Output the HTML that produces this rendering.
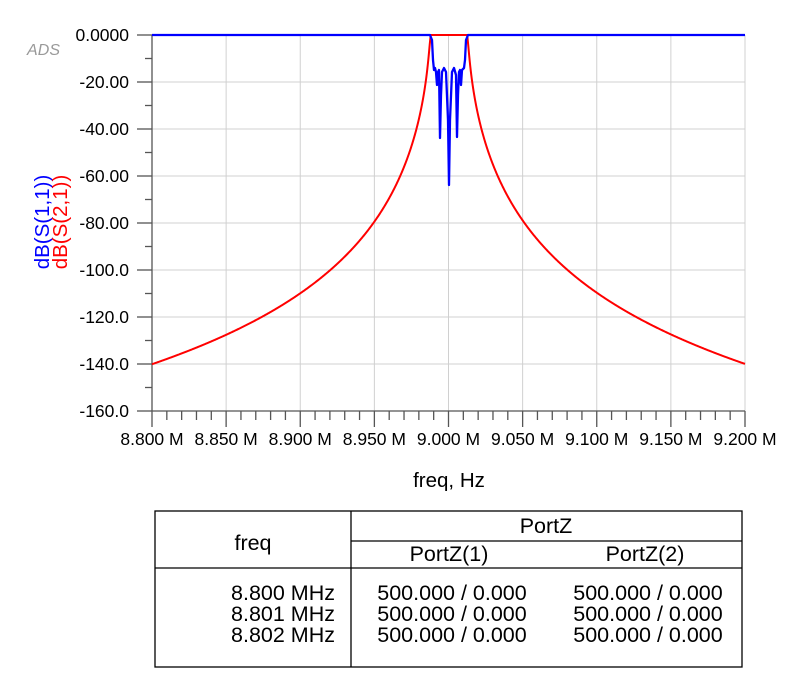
<!DOCTYPE html>
<html><head><meta charset="utf-8"><style>
html,body{margin:0;padding:0;background:#fff;}
svg{display:block;font-family:"Liberation Sans",Arial,sans-serif;}
</style></head><body>
<svg id="s" width="800" height="682" viewBox="0 0 800 682" xmlns="http://www.w3.org/2000/svg">
<text x="27" y="55" font-size="16" fill="#999" font-style="italic" textLength="33">ADS</text>
<g id="grid" stroke="#d0d0d0" stroke-width="1"></g>
<g id="ticks" stroke="#555" stroke-width="1.3"></g>
<g id="labels" fill="#000"></g>
<path id="red" fill="none" stroke="#f00" stroke-width="2"/>
<path id="blue" fill="none" stroke="#00f" stroke-width="2.3" stroke-linejoin="round"/>
<text x="449" y="487" font-size="20.5" text-anchor="middle">freq, Hz</text>
<text transform="translate(49,222) rotate(-90)" font-size="20.5" fill="#00f" text-anchor="middle">dB(S(1,1))</text>
<text transform="translate(67,222) rotate(-90)" font-size="20.5" fill="#f00" text-anchor="middle">dB(S(2,1))</text>
<g stroke="#000" stroke-width="1.3" fill="none">
<rect x="155" y="511" width="587" height="156"/>
<line x1="351" y1="511" x2="351" y2="667"/>
<line x1="351" y1="541" x2="742" y2="541"/>
<line x1="155" y1="568" x2="742" y2="568"/>
</g>
<g font-size="21.5" fill="#000">
<text x="253" y="550" text-anchor="middle">freq</text>
<text x="546" y="533" text-anchor="middle">PortZ</text>
<text x="449" y="561" text-anchor="middle">PortZ(1)</text>
<text x="645" y="561" text-anchor="middle">PortZ(2)</text>
<text x="335" y="600" text-anchor="end">8.800 MHz</text>
<text x="335" y="621" text-anchor="end">8.801 MHz</text>
<text x="335" y="642" text-anchor="end">8.802 MHz</text>
<text x="452" y="600" text-anchor="middle">500.000 / 0.000</text>
<text x="452" y="621" text-anchor="middle">500.000 / 0.000</text>
<text x="452" y="642" text-anchor="middle">500.000 / 0.000</text>
<text x="648" y="600" text-anchor="middle">500.000 / 0.000</text>
<text x="648" y="621" text-anchor="middle">500.000 / 0.000</text>
<text x="648" y="642" text-anchor="middle">500.000 / 0.000</text>
</g>
</svg>
<script>
var NS="http://www.w3.org/2000/svg";
function el(p,t,a,txt){var e=document.createElementNS(NS,t);for(var k in a)e.setAttribute(k,a[k]);if(txt!==undefined)e.textContent=txt;document.getElementById(p).appendChild(e);}
var X0=152,X1=745,Y0=35,Y1=411;
function X(f){return X0+(f-8.8)*(X1-X0)/0.4;}
function Y(d){return Y0+(-d)*(Y1-Y0)/160;}
var yl=["0.0000","-20.00","-40.00","-60.00","-80.00","-100.0","-120.0","-140.0","-160.0"];
for(var i=0;i<=8;i++){var y=Y(-20*i);
 if(i<8)el("grid","line",{x1:X0,y1:y,x2:X1,y2:y});
 el("ticks","line",{x1:137,y1:y,x2:X0,y2:y});
 if(i<8)el("ticks","line",{x1:145,y1:y+23.5,x2:X0,y2:y+23.5});
 el("labels","text",{x:129,y:y+6,"text-anchor":"end","font-size":"17.5"},yl[i]);}
var xl=["8.800 M","8.850 M","8.900 M","8.950 M","9.000 M","9.050 M","9.100 M","9.150 M","9.200 M"];
for(var i=0;i<=8;i++){var x=X(8.8+0.05*i);
 if(i>0)el("grid","line",{x1:x,y1:Y0,x2:x,y2:Y1});
 el("ticks","line",{x1:x,y1:Y1,x2:x,y2:427});
 if(i<8)for(var j=1;j<5;j++){var xm=x+j*(X1-X0)/40;el("ticks","line",{x1:xm,y1:Y1,x2:xm,y2:420});}
 el("labels","text",{x:x,y:445,"text-anchor":"middle","font-size":"17.5"},xl[i]);}
el("ticks","line",{x1:X0,y1:Y0,x2:X0,y2:Y1});
el("ticks","line",{x1:X0,y1:Y1,x2:X1,y2:Y1});
var d="",eps=0.6,fc=9.0003,de=0.0125;
for(var k=0;k<=1200;k++){var f=8.8+0.4*k/1200;var x=Math.abs(f-fc)/de;var db;
 if(x<=1)db=0;else{var T=Math.cosh(5*Math.acosh(x));db=-10*Math.log10(1+eps*eps*T*T);}
 d+=(k?"L":"M")+X(f).toFixed(2)+","+Y(Math.max(db,-160)).toFixed(2);}
document.getElementById("red").setAttribute("d",d);
var b=[[152,35],[430,35],[432,40],[433,60],[434,70],[435,68],[436,72],[437,85],[438,72],[439,70],[440,138],[441,95],[442,72],[444,68],[446,72],[448,120],[449,185],[450,120],[452,72],[454,68],[456,75],[457,137],[458,95],[459,72],[460,70],[461,85],[462,70],[464,68],[465,60],[466,40],[468,35],[745,35]];
document.getElementById("blue").setAttribute("d","M"+b.map(function(p){return p.join(",")}).join("L"));
</script>
</body></html>
